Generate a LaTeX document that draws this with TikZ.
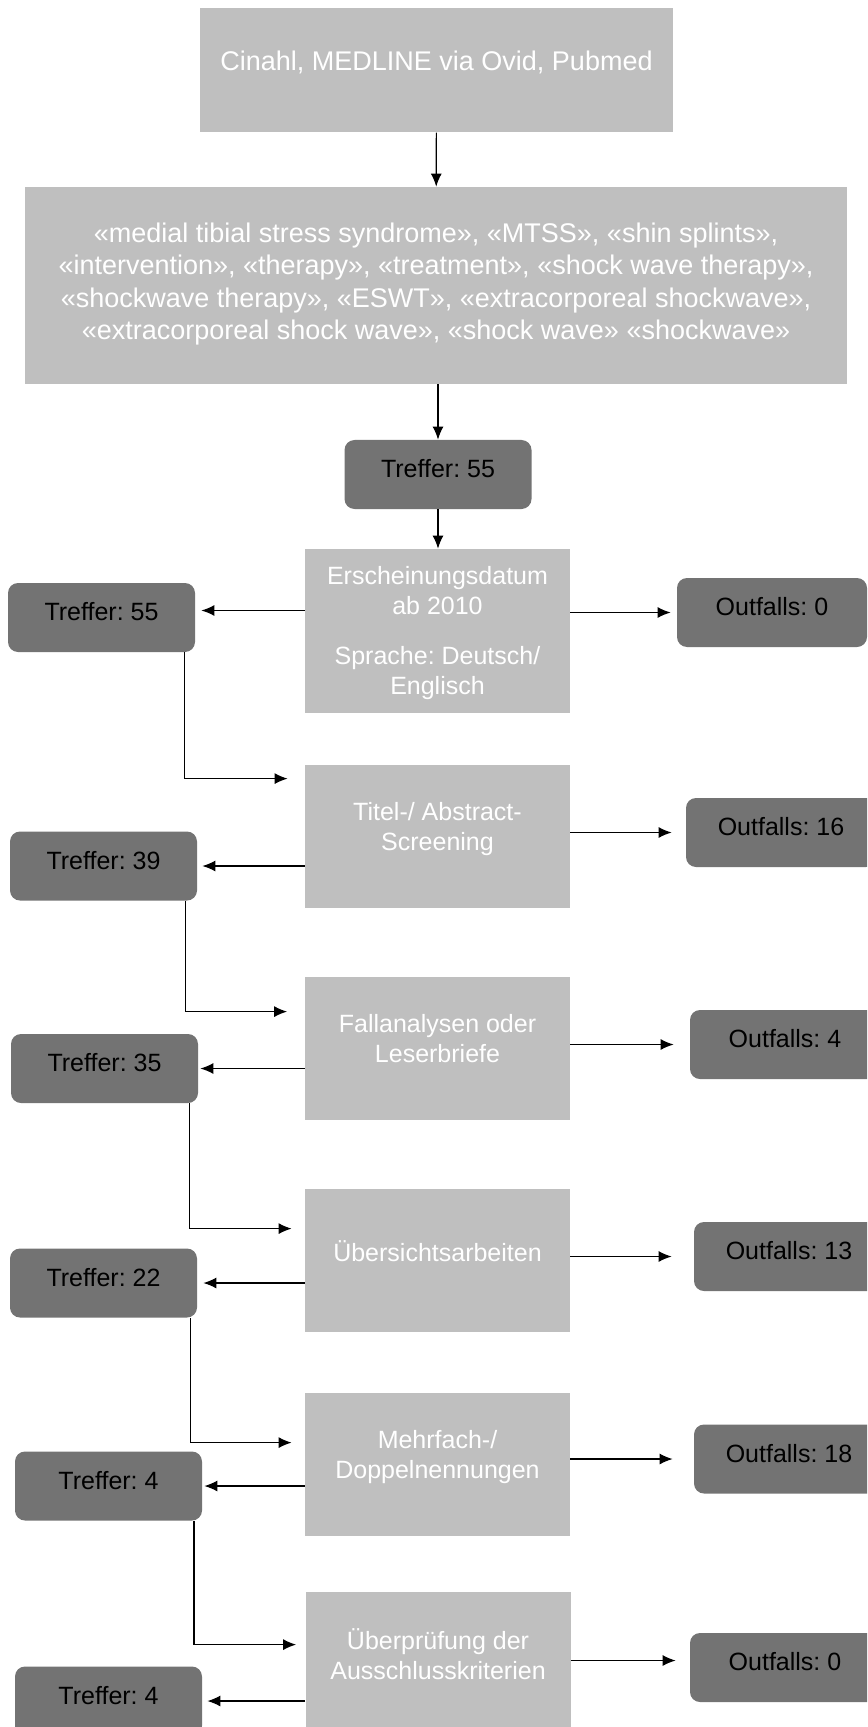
\documentclass[tikz,border=0pt]{standalone}
\usepackage{fontspec}
\setmainfont{Liberation Sans}
\usetikzlibrary{arrows.meta,positioning}

\definecolor{boxgray}{HTML}{BFBFBF}
\definecolor{hitgray}{HTML}{737373}

\begin{document}
\frenchspacing
\begin{tikzpicture}[x=0.5pt,y=-0.5pt,
  bigbox/.style={fill=boxgray,text=white,inner sep=0pt,align=center,
    text depth=9.7pt,font=\fontsize{13.5}{16.1}\selectfont},
  filterbox/.style={fill=boxgray,text=white,inner sep=0pt,align=center,
    minimum width=132.5pt,minimum height=71.5pt,text depth=9.7pt,
    font=\fontsize{12.5}{15}\selectfont},
  hitbox/.style={fill=hitgray,text=black,inner sep=0pt,rounded corners=5pt,
    minimum width=93.5pt,minimum height=34.5pt,text depth=6pt,
    font=\fontsize{12.5}{15}\selectfont},
  outbox/.style={hitbox,minimum width=95pt},
  arr/.style={-{Latex[length=6.5pt,width=5.5pt]},line width=0.6pt}]
  \clip (0,0) rectangle (867,1727);

  % search and terms
  \node[bigbox,minimum width=236.5pt,minimum height=62pt] (src) at (436.5,70.3)
    {Cinahl, MEDLINE via Ovid, Pubmed};
  \node[bigbox,minimum width=411pt,minimum height=98.5pt,text depth=4.2pt] (terms) at (436,285.5)
    {«medial tibial stress syndrome», «MTSS», «shin splints»,\\
     «intervention», «therapy», «treatment», «shock wave therapy»,\\
     «shockwave therapy», «ESWT», «extracorporeal shockwave»,\\
     «extracorporeal shock wave», «shock wave» «shockwave»};
  \node[hitbox] (hit0) at (438,474.5) {Treffer: 55};

  % filter steps
  \node[filterbox,minimum height=82pt,text depth=1pt] (f1) at (437.5,631)
    {Erscheinungsdatum\\ab 2010\\[10pt]Sprache: Deutsch/\\Englisch};
  \node[filterbox] (f2) at (437.5,836.5) {Titel-/ Abstract-\\Screening};
  \node[filterbox] (f3) at (437.5,1048.5) {Fallanalysen oder\\Leserbriefe};
  \node[filterbox] (f4) at (437.5,1260.5) {Übersichtsarbeiten};
  \node[filterbox] (f5) at (437.5,1464.5) {Mehrfach-/\\Doppelnennungen};
  \node[filterbox] (f6) at (438,1663.5) {Überprüfung der\\Ausschlusskriterien};

  % hits
  \node[hitbox] (hit1) at (101.5,617.5) {Treffer: 55};
  \node[hitbox] (hit2) at (103.5,866) {Treffer: 39};
  \node[hitbox] (hit3) at (104.5,1068.5) {Treffer: 35};
  \node[hitbox] (hit4) at (103.5,1283) {Treffer: 22};
  \node[hitbox] (hit5) at (108.5,1486) {Treffer: 4};
  \node[hitbox] (hit6) at (108.5,1701) {Treffer: 4};

  % outfalls
  \node[outbox] (out1) at (772,612.5) {Outfalls: 0};
  \node[outbox] (out2) at (781,832.5) {Outfalls: 16};
  \node[outbox] (out3) at (785,1044.5) {Outfalls: 4};
  \node[outbox] (out4) at (789,1256.5) {Outfalls: 13};
  \node[outbox] (out5) at (789,1459) {Outfalls: 18};
  \node[outbox] (out6) at (785,1667.5) {Outfalls: 0};

  % arrows
  \draw[arr] (src) -- (terms);
  \draw[arr] (terms.south -| hit0) -- (hit0);
  \draw[arr] (hit0) -- (hit0 |- f1.north);

  \draw[arr,shorten >=3pt] ([yshift=3.5pt]hit1.east -| f1.west) -- ([yshift=3.5pt]hit1.east);
  \draw[arr,shorten >=2.5pt] (f2.west |- hit2) -- (hit2.east);
  \draw[arr,shorten >=1pt] (f3.west |- hit3) -- (hit3.east);
  \draw[arr,shorten >=3pt] (f4.west |- hit4) -- (hit4.east);
  \draw[arr,shorten >=1pt] (f5.west |- hit5) -- (hit5.east);
  \draw[arr,shorten >=2.5pt] (f6.west |- hit6) -- (hit6.east);

  \draw[arr,shorten >=3pt] (f1.east |- out1) -- (out1.west);
  \draw[arr,shorten >=7pt] (f2.east |- out2) -- (out2.west);
  \draw[arr,shorten >=8pt] (f3.east |- out3) -- (out3.west);
  \draw[arr,shorten >=11pt] (f4.east |- out4) -- (out4.west);
  \draw[arr,shorten >=10.5pt] (f5.east |- out5) -- (out5.west);
  \draw[arr,shorten >=7pt] ([yshift=3.5pt]out6.west -| f6.east) -- ([yshift=3.5pt]out6.west);

  \draw[arr,shorten >=8.5pt] ([xshift=-5.5pt]hit1.south east) |- ([yshift=-7pt]f2.north west);
  \draw[arr,shorten >=8.75pt] ([xshift=-6pt]hit2.south east) |- ([yshift=-17.5pt]f3.north west);
  \draw[arr,shorten >=6.5pt] ([xshift=-4.5pt]hit3.south east) |- ([yshift=-20pt]f4.north west);
  \draw[arr,shorten >=6.5pt] ([xshift=-3.5pt]hit4.south east) |- ([yshift=-25pt]f5.north west);
  \draw[arr,shorten >=4.5pt] ([xshift=-4.25pt]hit5.south east) |- ([yshift=-26.5pt]f6.north west);
\end{tikzpicture}
\end{document}
